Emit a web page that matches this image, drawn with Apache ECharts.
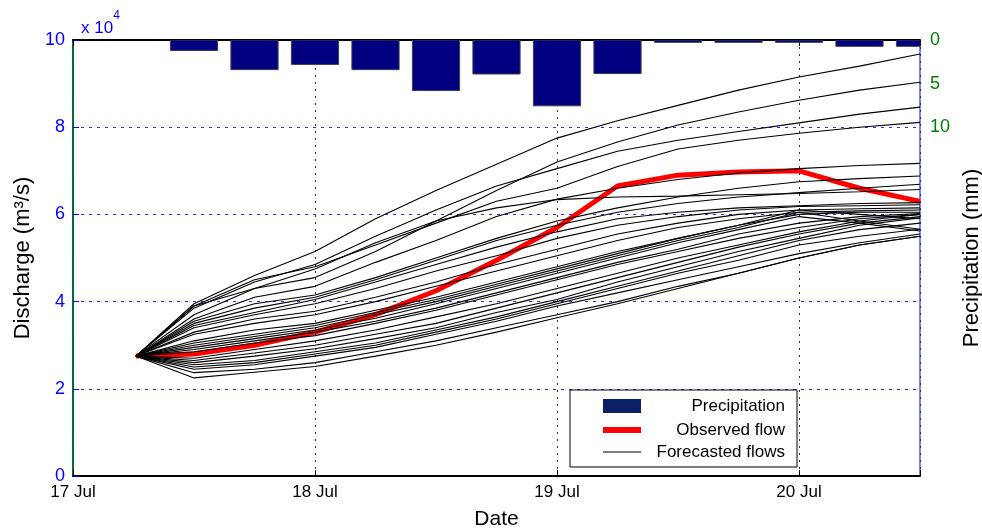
<!DOCTYPE html>
<html>
<head>
<meta charset="utf-8">
<script src="https://cdn.jsdelivr.net/npm/echarts@6/dist/echarts.min.js"></script>
<style>
  html, body { margin: 0; padding: 0; background: #fff; }
  #chart { width: 982px; height: 530px; }
</style>
</head>
<body>
<div id="chart"></div>
<script>
// days since 17 Jul 00:00
const dayLabels = ["17 Jul", "18 Jul", "19 Jul", "20 Jul"];
const times = [0.26, 0.5, 0.75, 1, 1.25, 1.5, 1.75, 2, 2.25, 2.5, 2.75, 3, 3.25, 3.5];
const rainTimes = [0.5, 0.75, 1, 1.25, 1.5, 1.75, 2, 2.25, 2.5, 2.75, 3, 3.25, 3.5];

// precipitation (mm) per 6 h
const rain = [1.2, 3.4, 2.8, 3.4, 5.8, 3.9, 7.55, 3.85, 0.27, 0.27, 0.27, 0.73, 0.73];

// discharge, x 10^4 m3/s
const observed = [2.75, 2.8, 3.0, 3.3, 3.7, 4.25, 4.95, 5.7, 6.65, 6.9, 6.97, 7.0, 6.6, 6.3];

const forecasts = [
    [2.75, 3.95, 4.6, 5.15, 5.9, 6.55, 7.15, 7.75, 8.15, 8.5, 8.85, 9.15, 9.4, 9.68],
    [2.75, 3.9, 4.3, 4.55, 5.15, 5.85, 6.55, 7.2, 7.66, 8.05, 8.35, 8.62, 8.85, 9.03],
    [2.75, 3.85, 4.45, 4.85, 5.5, 6.1, 6.65, 7.05, 7.45, 7.7, 7.9, 8.1, 8.3, 8.46],
    [2.75, 3.9, 4.5, 4.8, 5.3, 5.8, 6.3, 6.6, 7.1, 7.5, 7.7, 7.86, 8.0, 8.11],
    [2.75, 3.6, 4.1, 4.35, 4.9, 5.4, 5.95, 6.35, 6.6, 6.8, 6.95, 7.05, 7.12, 7.17],
    [2.75, 3.7, 4.3, 4.75, 5.35, 5.85, 6.15, 6.34, 6.4, 6.42, 6.45, 6.48, 6.52, 6.57],
    [2.75, 3.55, 3.95, 4.15, 4.55, 5.0, 5.45, 5.85, 6.15, 6.4, 6.6, 6.75, 6.82, 6.88],
    [2.75, 3.5, 3.85, 4.1, 4.5, 4.95, 5.4, 5.75, 6.05, 6.25, 6.4, 6.5, 6.6, 6.69],
    [2.75, 3.45, 3.75, 4.05, 4.45, 4.85, 5.25, 5.6, 5.9, 6.05, 6.15, 6.2, 6.25, 6.27],
    [2.75, 3.4, 3.7, 3.95, 4.3, 4.7, 5.05, 5.45, 5.75, 5.95, 6.1, 6.18, 6.2, 6.22],
    [2.75, 3.3, 3.6, 3.78, 4.1, 4.45, 4.85, 5.2, 5.55, 5.8, 6.0, 6.1, 6.13, 6.15],
    [2.75, 3.25, 3.5, 3.7, 4.0, 4.35, 4.7, 5.05, 5.4, 5.7, 5.9, 6.05, 6.08, 6.1],
    [2.75, 3.1, 3.35, 3.5, 3.8, 4.1, 4.45, 4.8, 5.15, 5.45, 5.75, 6.0, 6.05, 6.05],
    [2.75, 3.05, 3.25, 3.45, 3.75, 4.05, 4.4, 4.75, 5.1, 5.45, 5.75, 6.1, 6.0, 5.9],
    [2.75, 3.0, 3.2, 3.4, 3.7, 4.0, 4.35, 4.7, 5.05, 5.4, 5.7, 6.05, 5.85, 5.66],
    [2.75, 2.95, 3.15, 3.35, 3.62, 3.95, 4.3, 4.65, 5.0, 5.35, 5.65, 5.95, 5.8, 5.62],
    [2.75, 2.9, 3.1, 3.3, 3.55, 3.85, 4.2, 4.55, 4.9, 5.2, 5.55, 5.8, 5.95, 6.02],
    [2.75, 2.85, 3.05, 3.22, 3.5, 3.8, 4.15, 4.5, 4.85, 5.15, 5.45, 5.7, 5.9, 6.0],
    [2.75, 2.7, 2.9, 3.1, 3.35, 3.65, 3.95, 4.3, 4.65, 5.0, 5.3, 5.6, 5.85, 6.0],
    [2.75, 2.65, 2.82, 3.0, 3.25, 3.5, 3.85, 4.2, 4.55, 4.9, 5.25, 5.55, 5.8, 5.95],
    [2.75, 2.6, 2.75, 2.92, 3.15, 3.4, 3.75, 4.05, 4.45, 4.8, 5.15, 5.45, 5.75, 5.92],
    [2.75, 2.55, 2.65, 2.85, 3.05, 3.35, 3.65, 4.0, 4.35, 4.7, 5.05, 5.4, 5.65, 5.8],
    [2.75, 2.5, 2.6, 2.8, 3.0, 3.3, 3.6, 3.95, 4.3, 4.65, 4.95, 5.3, 5.5, 5.66],
    [2.75, 2.45, 2.55, 2.75, 2.95, 3.25, 3.55, 3.9, 4.2, 4.5, 4.8, 5.1, 5.35, 5.55],
    [2.75, 2.37, 2.45, 2.6, 2.85, 3.1, 3.4, 3.7, 4.0, 4.35, 4.65, 5.0, 5.3, 5.5],
    [2.75, 2.25, 2.38, 2.51, 2.75, 3.0, 3.3, 3.63, 3.95, 4.3, 4.65, 5.0, 5.3, 5.5]
];

const chart = echarts.init(document.getElementById("chart"));

const FONT = "Liberation Sans, Arial, sans-serif";
const BLUE = "#0000ff";
const GREEN = "#008000";
const BAR_DAYS = 0.195; // bar width in days

function pairs(xs, ys) {
    return xs.map((x, i) => [x, ys[i]]);
}

// bars hang from the top (inverted axis); custom series so the last bar gets clipped
function renderRainBar(params, api) {
    const t = api.value(0);
    const top = api.coord([t, 0]);
    const bottom = api.coord([t, api.value(1)]);
    const w = api.size([BAR_DAYS, 0])[0];
    return {
        type: "rect",
        shape: {
            x: top[0] - w / 2,
            y: Math.min(top[1], bottom[1]),
            width: w,
            height: Math.abs(bottom[1] - top[1])
        },
        style: { fill: "#000080", stroke: "#404040", lineWidth: 1 }
    };
}

const series = [
    {
        name: "Precipitation",
        type: "custom",
        xAxisIndex: 0,
        yAxisIndex: 1,
        clip: true,
        renderItem: renderRainBar,
        itemStyle: { color: "#000080" },
        encode: { x: 0, y: 1 },
        data: pairs(rainTimes, rain)
    },
    {
        name: "Observed flow",
        type: "line",
        showSymbol: false,
        symbol: "none",
        lineStyle: { color: "#ff0000", width: 5 },
        itemStyle: { color: "#ff0000" },
        data: pairs(times, observed)
    }
];

forecasts.forEach(f => {
    series.push({
        name: "Forecasted flows",
        type: "line",
        showSymbol: false,
        symbol: "none",
        lineStyle: { color: "#000", width: 1.1 },
        itemStyle: { color: "#000" },
        data: pairs(times, f)
    });
});

const legendText = {
    rich: {
        t: { width: 139, height: 20, lineHeight: 20, align: "right", fontSize: 17, fontFamily: FONT, color: "#000" }
    }
};

function legendRow(name, top, iconHeight, color, boxed) {
    return {
        orient: "vertical",
        left: 570,
        top: top,
        padding: boxed ? [6, 12, 51, 33] : [0, 12, 0, 33],
        itemWidth: 38,
        itemHeight: iconHeight,
        backgroundColor: boxed ? "#fff" : "transparent",
        borderColor: "#000",
        borderWidth: boxed ? 1 : 0,
        borderRadius: 0,
        selectedMode: false,
        data: [{ name: name, icon: "rect", itemStyle: { color: color, borderWidth: 0 } }],
        formatter: n => "{t|" + n + "}",
        textStyle: legendText
    };
}

const option = {
    animation: false,
    backgroundColor: "#fff",
    textStyle: { fontFamily: FONT },
    title: {
        text: "{a|x 10}{b|4}",
        left: 76,
        top: 5,
        textStyle: {
            fontWeight: "normal",
            rich: {
                a: { color: BLUE, fontSize: 17, fontFamily: FONT, verticalAlign: "bottom", padding: [10, 0, 0, 0] },
                b: { color: BLUE, fontSize: 12, fontFamily: FONT, verticalAlign: "top" }
            }
        }
    },
    grid: {
        left: 73,
        right: 62,
        top: 40,
        bottom: 54,
        outerBoundsMode: "none",
        containLabel: false,
        show: true,
        borderColor: BLUE,
        borderWidth: 1
    },
    legend: [
        legendRow("Precipitation", 390, 14, "#0a1f66", true),
        legendRow("Observed flow", 420, 6, "#ff0000", false),
        legendRow("Forecasted flows", 442, 1.5, "#555", false)
    ],
    xAxis: [
        {
            type: "value",
            min: 0,
            max: 3.5,
            interval: 1,
            name: "Date",
            nameLocation: "middle",
            nameGap: 33,
            nameTextStyle: { fontSize: 21, fontFamily: FONT, color: "#000", verticalAlign: "top" },
            axisLine: { show: true, lineStyle: { color: "#000", width: 2 } },
            axisTick: { show: true, inside: true, length: 6, lineStyle: { color: "#000" } },
            axisLabel: {
                fontSize: 17,
                fontFamily: FONT,
                color: "#000",
                margin: 8,
                formatter: v => dayLabels[Math.round(v)] || ""
            },
            splitLine: { show: true, lineStyle: { color: "#333", type: [2, 5], width: 1 } }
        },
        {
            type: "value",
            position: "top",
            min: 0,
            max: 3.5,
            interval: 1,
            axisLine: { show: true, lineStyle: { color: "#000", width: 2 } },
            axisTick: { show: true, inside: true, length: 6, lineStyle: { color: "#000" } },
            axisLabel: { show: false },
            splitLine: { show: false }
        }
    ],
    yAxis: [
        {
            type: "value",
            min: 0,
            max: 10,
            interval: 2,
            name: "Discharge (m³/s)",
            nameLocation: "middle",
            nameGap: 35,
            nameRotate: 90,
            nameTextStyle: { fontSize: 22, fontFamily: FONT, color: "#000" },
            axisLine: { show: true, lineStyle: { color: BLUE, width: 1.5 } },
            axisTick: { show: true, inside: true, length: 6, lineStyle: { color: BLUE } },
            axisLabel: { fontSize: 18, fontFamily: FONT, color: BLUE, margin: 8 },
            splitLine: { show: true, lineStyle: { color: "#2a2aff", type: [3, 5], width: 1.2 } }
        },
        {
            type: "value",
            position: "right",
            inverse: true,
            min: 0,
            max: 50,
            interval: 5,
            name: "Precipitation (mm)",
            nameLocation: "middle",
            nameGap: 38,
            nameRotate: 90,
            nameTextStyle: { fontSize: 22, fontFamily: FONT, color: "#000" },
            axisLine: { show: true, lineStyle: { color: GREEN, width: 1.5 } },
            axisTick: { show: false },
            axisLabel: { fontSize: 18, fontFamily: FONT, color: GREEN, margin: 10, customValues: [0, 5, 10] },
            splitLine: { show: false }
        }
    ],
    series: series
};

chart.setOption(option);
</script>
</body>
</html>
